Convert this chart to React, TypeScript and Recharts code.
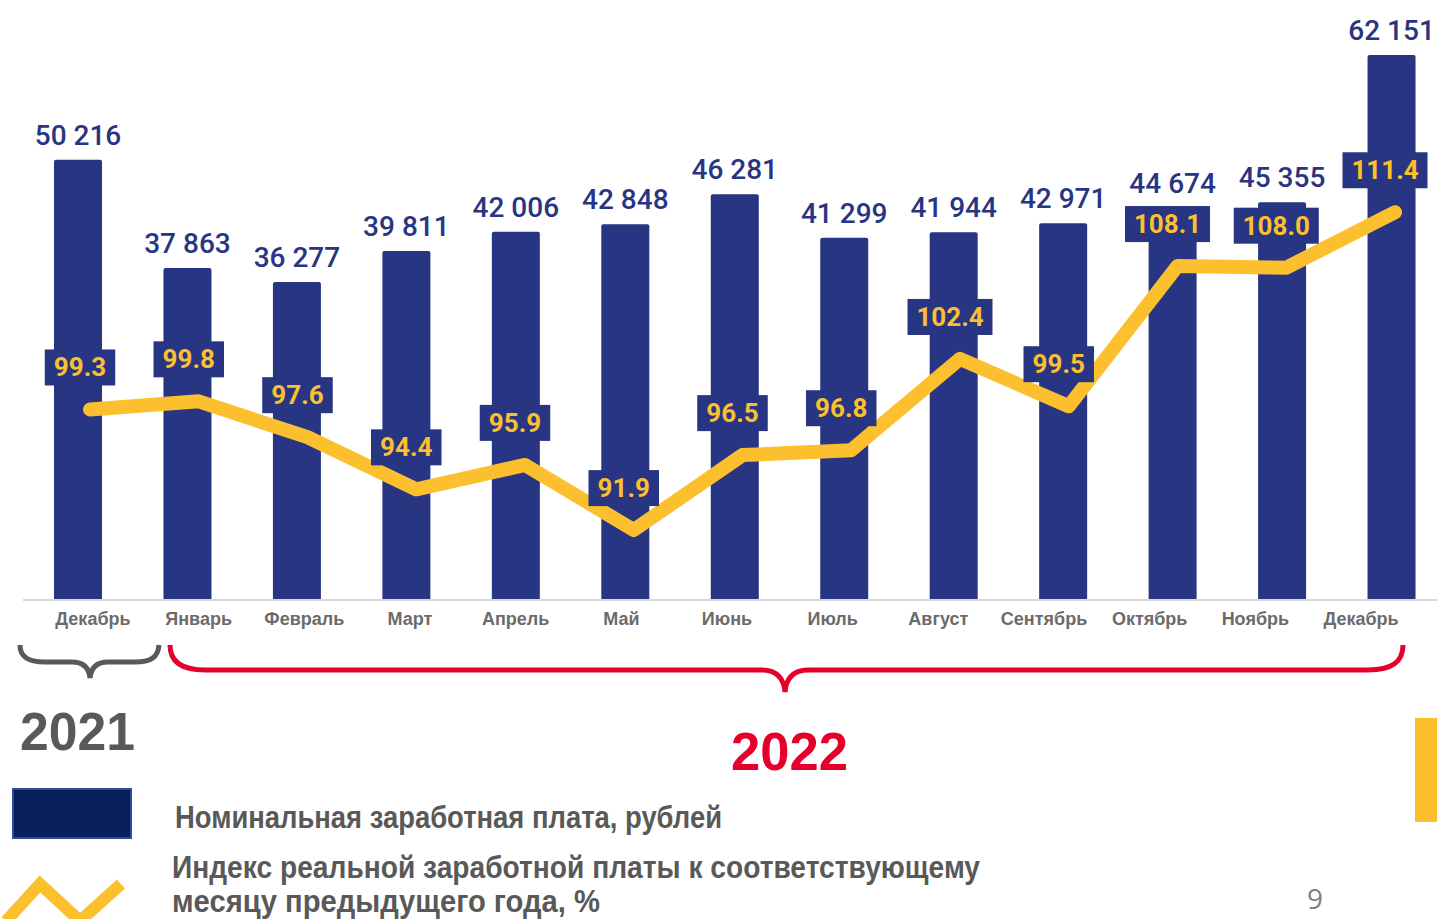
import React from 'react';
import { ComposedChart, Bar, Line, XAxis, YAxis, LabelList } from 'recharts';

const months = ['Декабрь', 'Январь', 'Февраль', 'Март', 'Апрель', 'Май', 'Июнь', 'Июль', 'Август', 'Сентябрь', 'Октябрь', 'Ноябрь', 'Декабрь'];
const nominalWage = [50216, 37863, 36277, 39811, 42006, 42848, 46281, 41299, 41944, 42971, 44674, 45355, 62151];
const realWageIndex = [99.3, 99.8, 97.6, 94.4, 95.9, 91.9, 96.5, 96.8, 102.4, 99.5, 108.1, 108.0, 111.4];
const yearLabels = ['2021', '2022'];
const legendLabels = [
  'Номинальная заработная плата, рублей',
  'Индекс реальной заработной платы к соответствующему',
  'месяцу предыдущего года, %',
];
const pageNumber = '9';

const data = months.map((m, i) => ({ m, i, wage: nominalWage[i], idx: realWageIndex[i] }));
const tickIdx = months.map((_, i) => i);

const NAVY = '#283582';
const YELLOW = '#FCC02E';
const GRAY = '#595959';
const RED = '#E4002B';

const fmtWage = (v: number) => {
  const s = String(v);
  return s.length > 3 ? s.slice(0, s.length - 3) + '\u00A0' + s.slice(s.length - 3) : s;
};

const IndexLabel = (props: any) => {
  const { x, y, value } = props;
  const txt = Number(value).toFixed(1);
  const w = (txt.length - 1) * 14.5 + 7 + 20;
  const cx = x - 10;
  const cy = y - 42;
  return (
    <g>
      <rect x={cx - w / 2} y={cy - 18} width={w} height={36} fill={NAVY} />
      <text x={cx} y={cy + 9} textAnchor="middle" fill={YELLOW} fontFamily="Roboto" fontWeight={700} fontSize={26}>
        {txt}
      </text>
    </g>
  );
};

export default function App() {
  return (
    <div style={{ position: 'absolute', left: 0, top: 0, width: 1437, height: 919, overflow: 'hidden', background: '#fff' }}>
      <div style={{ position: 'absolute', left: 0, top: 0 }}>
        <ComposedChart width={1446} height={640} data={data} margin={{ top: 55, right: 0, bottom: 0, left: 23 }}>
          <XAxis
            xAxisId="ticks"
            type="number"
            dataKey="i"
            domain={[-0.662, 12.804]}
            ticks={tickIdx}
            tickFormatter={(v: number) => months[v]}
            height={40}
            axisLine={{ stroke: '#d9d9d9', strokeWidth: 2 }}
            tickLine={false}
            tickSize={6}
            tickMargin={6}
            interval={0}
            tick={{ fill: '#6b6b6b', fontFamily: 'Liberation Sans', fontWeight: 700, fontSize: 18 }}
          />
          <XAxis dataKey="m" hide height={0} />
          <XAxis xAxisId="line" type="number" dataKey="i" hide height={0} domain={[-0.616, 12.469]} />
          <YAxis yAxisId="left" hide domain={[0, 62151]} />
          <YAxis yAxisId="right" hide domain={[87.61, 121.05]} />
          <Bar yAxisId="left" dataKey="wage" fill={NAVY} barSize={48} radius={[2, 2, 0, 0]} isAnimationActive={false}>
            <LabelList
              dataKey="wage"
              position="top"
              offset={15}
              formatter={(v: any) => fmtWage(v)}
              style={{ fill: NAVY, fontFamily: 'Roboto', fontWeight: 500, fontSize: 28 }}
            />
          </Bar>
          <Line
            xAxisId="line"
            yAxisId="right"
            dataKey="idx"
            stroke={YELLOW}
            strokeWidth={14}
            strokeLinejoin="round"
            strokeLinecap="round"
            dot={false}
            isAnimationActive={false}
          >
            <LabelList dataKey="idx" content={IndexLabel} />
          </Line>
        </ComposedChart>
      </div>
      <svg width={1437} height={919} style={{ position: 'absolute', left: 0, top: 0, pointerEvents: 'none' }}>
        <path d="M20,645 C20,658 30,662 45,662 L72,662 C84,662 89,668 90,678 C91,668 96,662 108,662 L135,662 C150,662 158,658 159,645" fill="none" stroke={GRAY} strokeWidth={5} />
        <path d="M170,645 C170,662 182,670 205,670 L762,670 C778,670 784,680 785,692 C786,680 792,670 808,670 L1368,670 C1392,670 1403,662 1403,645" fill="none" stroke={RED} strokeWidth={5} />
        <text x={20} y={750} fontFamily="Liberation Sans" fontWeight={700} fontSize={54} fill={GRAY} textLength={115} lengthAdjust="spacingAndGlyphs">{yearLabels[0]}</text>
        <text x={731} y={770} fontFamily="Liberation Sans" fontWeight={700} fontSize={54} fill={RED} textLength={117} lengthAdjust="spacingAndGlyphs">{yearLabels[1]}</text>
        <rect x={13} y={789} width={118} height={49} fill="#0B1F5C" stroke="#2F4A9A" strokeWidth={2} />
        <text x={175} y={828} fontFamily="Liberation Sans" fontWeight={700} fontSize={31} fill={GRAY} textLength={547} lengthAdjust="spacingAndGlyphs">{legendLabels[0]}</text>
        <polyline points="6,921 40,884 80,921 121,884" fill="none" stroke={YELLOW} strokeWidth={12} />
        <text x={172} y={878} fontFamily="Liberation Sans" fontWeight={700} fontSize={31} fill={GRAY} textLength={808} lengthAdjust="spacingAndGlyphs">{legendLabels[1]}</text>
        <text x={172} y={912} fontFamily="Liberation Sans" fontWeight={700} fontSize={31} fill={GRAY} textLength={428} lengthAdjust="spacingAndGlyphs">{legendLabels[2]}</text>
        <rect x={1415} y={718} width={22} height={104} fill={YELLOW} />
        <text x={1315} y={909} textAnchor="middle" fontFamily="Open Sans" fontSize={28} fill="#7f7f7f">{pageNumber}</text>
      </svg>
    </div>
  );
}
